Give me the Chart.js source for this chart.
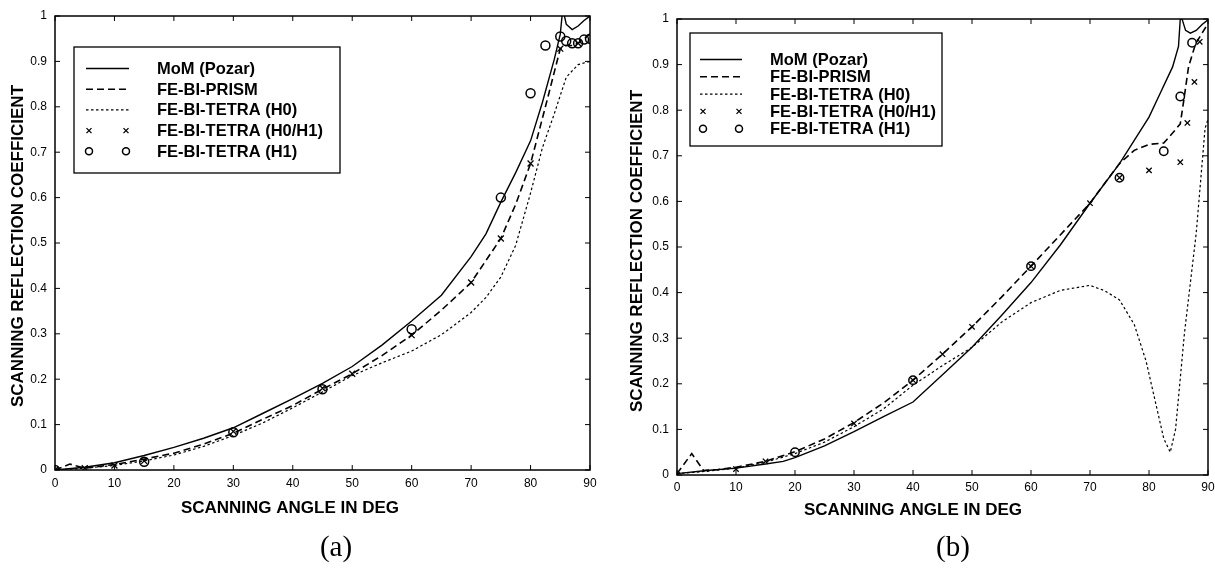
<!DOCTYPE html>
<html>
<head>
<meta charset="utf-8">
<script src="https://cdn.jsdelivr.net/npm/chart.js@4.4.1/dist/chart.umd.min.js"></script>
<style>
  html, body { margin: 0; padding: 0; background: #fff; }
  #wrap { position: relative; width: 1215px; height: 568px; overflow: hidden; background: #fff; }
  .pane { position: absolute; top: 0; height: 568px; }
  #paneA { left: 0; width: 607px; }
  #paneB { left: 607px; width: 608px; }
</style>
</head>
<body>
<div id="wrap">
  <div class="pane" id="paneA"><canvas id="chartA" width="607" height="568"></canvas></div>
  <div class="pane" id="paneB"><canvas id="chartB" width="608" height="568"></canvas></div>
</div>
<script>
// ---- tick labels and series names ----
const xTickLabels = ['0', '10', '20', '30', '40', '50', '60', '70', '80', '90'];
const yTickLabels = ['0', '0.1', '0.2', '0.3', '0.4', '0.5', '0.6', '0.7', '0.8', '0.9', '1'];
const seriesNames = ['MoM (Pozar)', 'FE-BI-PRISM', 'FE-BI-TETRA (H0)', 'FE-BI-TETRA (H0/H1)', 'FE-BI-TETRA (H1)'];

// ---- panel (a): scanning angle (deg) / reflection coefficient ----
const momA_deg   = [0, 5, 10, 15, 20, 25, 30, 35, 40, 45, 50, 55, 60, 65, 70, 72.5, 75, 77.5, 80, 82, 84, 85, 85.3, 85.5, 85.7, 86, 87, 88, 89, 90];
const momA_val   = [0, 0.006, 0.016, 0.032, 0.05, 0.07, 0.093, 0.125, 0.157, 0.191, 0.228, 0.275, 0.328, 0.385, 0.47, 0.52, 0.59, 0.655, 0.725, 0.81, 0.905, 0.96, 1.0, 1.04, 1.0, 0.982, 0.97, 0.978, 0.99, 1.0];
const prismA_deg = [0, 2.5, 5, 10, 15, 20, 25, 30, 35, 40, 45, 50, 55, 60, 65, 70, 75, 77.5, 80, 82.5, 85, 86, 87, 88, 89, 90];
const prismA_val = [0, 0.013, 0.004, 0.012, 0.024, 0.037, 0.057, 0.081, 0.112, 0.142, 0.178, 0.212, 0.252, 0.297, 0.352, 0.413, 0.51, 0.585, 0.675, 0.8, 0.928, 0.935, 0.935, 0.94, 0.95, 0.96];
const h0A_deg    = [0, 5, 10, 15, 20, 25, 30, 35, 40, 45, 50, 55, 60, 65, 70, 72.5, 75, 77.5, 80, 82, 84, 86, 88, 90];
const h0A_val    = [0, 0.004, 0.01, 0.02, 0.033, 0.052, 0.076, 0.104, 0.137, 0.172, 0.208, 0.236, 0.262, 0.298, 0.347, 0.38, 0.425, 0.495, 0.61, 0.71, 0.785, 0.865, 0.893, 0.9];
const h01A_deg   = [0, 5, 10, 15, 30, 45, 50, 60, 70, 75, 80, 85, 88];
const h01A_val   = [0, 0.004, 0.01, 0.02, 0.085, 0.18, 0.212, 0.297, 0.413, 0.51, 0.675, 0.928, 0.94];
const h1A_deg    = [0, 15, 30, 45, 60, 75, 80, 82.5, 85, 86, 87, 88, 89, 90];
const h1A_val    = [0, 0.018, 0.083, 0.178, 0.31, 0.6, 0.83, 0.935, 0.955, 0.945, 0.94, 0.94, 0.948, 0.95];

// ---- panel (b) ----
const momB_deg   = [0, 5, 10, 15, 18, 20, 25, 30, 35, 40, 45, 50, 55, 60, 65, 70, 75, 80, 82, 84, 85, 85.3, 85.4, 85.6, 86.2, 87, 88, 89, 90];
const momB_val   = [0.003, 0.01, 0.015, 0.024, 0.03, 0.038, 0.064, 0.095, 0.128, 0.16, 0.22, 0.28, 0.35, 0.422, 0.505, 0.596, 0.683, 0.785, 0.84, 0.895, 0.94, 1.0, 1.05, 1.0, 0.975, 0.969, 0.975, 0.988, 0.998];
const prismB_deg = [0, 2.5, 4.5, 7, 10, 15, 20, 25, 30, 35, 40, 45, 50, 55, 60, 65, 70, 72.5, 75, 77.5, 80, 82.5, 84, 85.3, 85.9, 86.7, 87.9, 90];
const prismB_val = [0.003, 0.047, 0.01, 0.012, 0.017, 0.03, 0.051, 0.079, 0.115, 0.158, 0.208, 0.265, 0.325, 0.39, 0.458, 0.527, 0.596, 0.64, 0.683, 0.712, 0.725, 0.728, 0.75, 0.77, 0.822, 0.895, 0.946, 0.99];
const h0B_deg    = [0, 5, 10, 15, 20, 25, 30, 35, 40, 45, 50, 55, 60, 65, 70, 72.5, 75, 77.5, 79.5, 81, 82.5, 83.6, 84.5, 86, 88, 89.5, 90];
const h0B_val    = [0.003, 0.008, 0.015, 0.028, 0.047, 0.072, 0.106, 0.145, 0.197, 0.24, 0.28, 0.335, 0.378, 0.405, 0.416, 0.404, 0.384, 0.33, 0.25, 0.165, 0.08, 0.05, 0.1, 0.31, 0.53, 0.76, 0.78];
const h01B_deg   = [0, 10, 15, 30, 40, 45, 50, 60, 70, 75, 80, 85.3, 86.5, 87.7, 88.6];
const h01B_val   = [0, 0.013, 0.03, 0.113, 0.208, 0.265, 0.325, 0.458, 0.596, 0.652, 0.668, 0.686, 0.772, 0.862, 0.95];
const h1B_deg    = [20, 40, 60, 75, 82.5, 85.3, 87.3];
const h1B_val    = [0.05, 0.208, 0.458, 0.652, 0.71, 0.83, 0.948];

const pts = (xs, ys) => xs.map((x, i) => ({ x: x, y: ys[i] }));

function makeDatasets(p) {
  return [
    { label: seriesNames[0], data: pts(p.mom[0], p.mom[1]), borderColor: '#000', borderWidth: 1.4, pointRadius: 0, tension: 0 },
    { label: seriesNames[1], data: pts(p.prism[0], p.prism[1]), borderColor: '#000', borderWidth: 1.6, borderDash: [7, 4], pointRadius: 0, tension: 0 },
    { label: seriesNames[2], data: pts(p.h0[0], p.h0[1]), borderColor: '#000', borderWidth: 1.2, borderDash: [2.5, 2.5], pointRadius: 0, tension: 0 },
    { label: seriesNames[3], data: pts(p.h01[0], p.h01[1]), showLine: false, pointStyle: 'crossRot', pointRadius: p.xRadius, pointBorderWidth: 1.3, pointBorderColor: '#000', pointBackgroundColor: 'rgba(0,0,0,0)' },
    { label: seriesNames[4], data: pts(p.h1[0], p.h1[1]), showLine: false, pointStyle: 'circle', pointRadius: p.oRadius, pointBorderWidth: 1.5, pointBorderColor: '#000', pointBackgroundColor: 'rgba(0,0,0,0)' }
  ];
}

// box frame with inward tick marks on all four sides
const framePlugin = {
  id: 'frame',
  afterDatasetsDraw(chart, args, o) {
    const { ctx, chartArea: a, scales: { x, y } } = chart;
    ctx.save();
    ctx.strokeStyle = '#000';
    ctx.lineWidth = 1;
    ctx.beginPath();
    x.ticks.forEach(t => {
      const px = x.getPixelForValue(t.value);
      ctx.moveTo(px, a.bottom); ctx.lineTo(px, a.bottom - o.tickLen);
      ctx.moveTo(px, a.top); ctx.lineTo(px, a.top + o.tickLen);
    });
    y.ticks.forEach(t => {
      const py = y.getPixelForValue(t.value);
      ctx.moveTo(a.left, py); ctx.lineTo(a.left + o.tickLen, py);
      ctx.moveTo(a.right, py); ctx.lineTo(a.right - o.tickLen, py);
    });
    ctx.stroke();
    ctx.lineWidth = o.lineWidth;
    ctx.strokeRect(a.left, a.top, a.right - a.left, a.bottom - a.top);
    ctx.restore();
  }
};

// axis titles and panel caption
const titlesPlugin = {
  id: 'titles',
  afterDraw(chart, args, o) {
    const ctx = chart.ctx;
    ctx.save();
    ctx.fillStyle = '#000';
    ctx.textAlign = 'center';
    ctx.textBaseline = 'middle';
    ctx.font = o.titleFont;
    ctx.fillText(o.xTitle, o.xTitleX, o.xTitleY);
    ctx.save();
    ctx.translate(o.yTitleX, o.yTitleY);
    ctx.rotate(-Math.PI / 2);
    ctx.fillText(o.yTitle, 0, 0);
    ctx.restore();
    ctx.font = o.captionFont;
    ctx.fillText(o.caption, o.captionX, o.captionY);
    ctx.restore();
  }
};

// boxed legend inside the plot
const boxLegendPlugin = {
  id: 'boxLegend',
  afterDraw(chart, args, o) {
    const ctx = chart.ctx;
    ctx.save();
    ctx.fillStyle = '#fff';
    ctx.fillRect(o.left, o.top, o.width, o.height);
    ctx.strokeStyle = '#000';
    ctx.lineWidth = 1.3;
    ctx.strokeRect(o.left, o.top, o.width, o.height);
    chart.data.datasets.forEach((ds, i) => {
      const yy = o.firstRow + i * o.rowGap;
      ctx.strokeStyle = '#000';
      if (ds.showLine !== false) {
        ctx.lineWidth = ds.borderWidth;
        ctx.setLineDash(ds.borderDash || []);
        ctx.beginPath();
        ctx.moveTo(o.sampleX0, yy);
        ctx.lineTo(o.sampleX1, yy);
        ctx.stroke();
        ctx.setLineDash([]);
      } else {
        ctx.lineWidth = ds.pointBorderWidth;
        [o.sampleX0 + 3, o.sampleX1 - 3].forEach(cx => {
          ctx.beginPath();
          if (ds.pointStyle === 'circle') {
            ctx.arc(cx, yy, o.oRadius, 0, Math.PI * 2);
          } else {
            const r = o.xHalf;
            ctx.moveTo(cx - r, yy - r); ctx.lineTo(cx + r, yy + r);
            ctx.moveTo(cx - r, yy + r); ctx.lineTo(cx + r, yy - r);
          }
          ctx.stroke();
        });
      }
      ctx.fillStyle = '#000';
      ctx.font = o.font;
      ctx.textAlign = 'left';
      ctx.textBaseline = 'middle';
      ctx.fillText(ds.label, o.textX, yy + 1);
    });
    ctx.restore();
  }
};

function makeChart(id, p) {
  return new Chart(document.getElementById(id), {
    type: 'line',
    data: { datasets: makeDatasets(p) },
    plugins: [framePlugin, titlesPlugin, boxLegendPlugin],
    options: {
      responsive: false,
      animation: false,
      devicePixelRatio: 1,
      layout: { padding: p.padding },
      plugins: {
        legend: { display: false },
        tooltip: { enabled: false },
        frame: { tickLen: 5, lineWidth: 1.5 },
        titles: p.titles,
        boxLegend: p.legend
      },
      scales: {
        x: {
          type: 'linear', min: 0, max: 90,
          grid: { display: false, drawTicks: false },
          border: { display: false },
          ticks: {
            stepSize: 10, padding: p.xPad, color: '#000',
            font: { family: 'Liberation Sans, Arial, sans-serif', size: 12 },
            maxRotation: 0, autoSkip: false,
            callback: (v, i) => xTickLabels[i]
          },
          afterFit: s => { s.height = p.xHeight; s.paddingLeft = 0; s.paddingRight = 0; }
        },
        y: {
          type: 'linear', min: 0, max: 1,
          grid: { display: false, drawTicks: false },
          border: { display: false },
          ticks: {
            stepSize: 0.1, padding: p.yPad, color: '#000',
            font: { family: 'Liberation Sans, Arial, sans-serif', size: 12 },
            autoSkip: false,
            callback: (v, i) => yTickLabels[i]
          },
          afterFit: s => { s.width = p.yWidth; s.paddingTop = 0; s.paddingBottom = 0; }
        }
      }
    }
  });
}

const titleFont = 'bold 17px "Liberation Sans", Arial, sans-serif';
const captionFont = '29px "Liberation Serif", "Times New Roman", serif';
const legendFont = 'bold 16.5px "Liberation Sans", Arial, sans-serif';

makeChart('chartA', {
  mom: [momA_deg, momA_val], prism: [prismA_deg, prismA_val], h0: [h0A_deg, h0A_val],
  h01: [h01A_deg, h01A_val], h1: [h1A_deg, h1A_val],
  xRadius: 4.2, oRadius: 4.5,
  padding: { left: 0, top: 16, right: 17, bottom: 0 },
  yWidth: 55, xHeight: 98, xPad: 6, yPad: 8,
  titles: {
    titleFont: titleFont, captionFont: captionFont,
    xTitle: 'SCANNING ANGLE IN DEG', xTitleX: 290, xTitleY: 508,
    yTitle: 'SCANNING REFLECTION COEFFICIENT', yTitleX: 18, yTitleY: 246,
    caption: '(a)', captionX: 336, captionY: 548
  },
  legend: {
    left: 74, top: 47, width: 266, height: 126,
    firstRow: 68.5, rowGap: 20.7, sampleX0: 86, sampleX1: 129, textX: 157,
    oRadius: 3.5, xHalf: 2.5, font: legendFont
  }
});

makeChart('chartB', {
  mom: [momB_deg, momB_val], prism: [prismB_deg, prismB_val], h0: [h0B_deg, h0B_val],
  h01: [h01B_deg, h01B_val], h1: [h1B_deg, h1B_val],
  xRadius: 3.8, oRadius: 4.2,
  padding: { left: 0, top: 19, right: 7, bottom: 0 },
  yWidth: 70, xHeight: 93, xPad: 5, yPad: 8,
  titles: {
    titleFont: titleFont, captionFont: captionFont,
    xTitle: 'SCANNING ANGLE IN DEG', xTitleX: 306, xTitleY: 510,
    yTitle: 'SCANNING REFLECTION COEFFICIENT', yTitleX: 30, yTitleY: 251,
    caption: '(b)', captionX: 346, captionY: 548
  },
  legend: {
    left: 83, top: 33, width: 252, height: 113,
    firstRow: 59.5, rowGap: 17.3, sampleX0: 93, sampleX1: 135, textX: 163,
    oRadius: 3.5, xHalf: 2.5, font: legendFont
  }
});
</script>
</body>
</html>
